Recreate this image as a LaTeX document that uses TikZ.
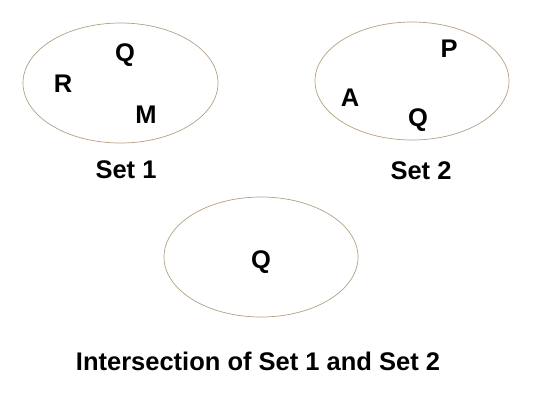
\documentclass[tikz,border=0pt]{standalone}
\usepackage{fontspec}
\setmainfont{Liberation Sans}
\usetikzlibrary{shapes.geometric}
\definecolor{rimtan}{RGB}{180,160,132}
\tikzset{
  setring/.style={ellipse, draw=rimtan, line width=0.7pt, inner sep=0pt},
  elem/.style={anchor=base, inner sep=0pt, font=\fontsize{25.5}{30}\selectfont\bfseries},
}
\begin{document}
\begin{tikzpicture}[x=1pt, y=-1pt]
  \useasboundingbox (0,0) rectangle (540,394);
  % Set 1
  \node[setring, minimum width=195pt, minimum height=120pt] (s1) at (120.5,83) {};
  \node[elem] (s1q) at (125,61) {Q};
  \node[elem] (s1r) at (63,92) {R};
  \node[elem] (s1m) at (146,123) {M};
  \node[elem] (s1lab) at (126,178) {Set 1};
  % Set 2
  \node[setring, minimum width=194pt, minimum height=118pt] (s2) at (412,81) {};
  \node[elem] (s2p) at (449,57) {P};
  \node[elem] (s2a) at (350,106) {A};
  \node[elem] (s2q) at (418,126) {Q};
  \node[elem] (s2lab) at (421,179) {Set 2};
  % Intersection
  \node[setring, minimum width=194pt, minimum height=120pt] (s3) at (261,257) {};
  \node[elem] (s3q) at (261,268) {Q};
  \node[elem] (title) at (258,370) {Intersection of Set 1 and Set 2};
\end{tikzpicture}
\end{document}
